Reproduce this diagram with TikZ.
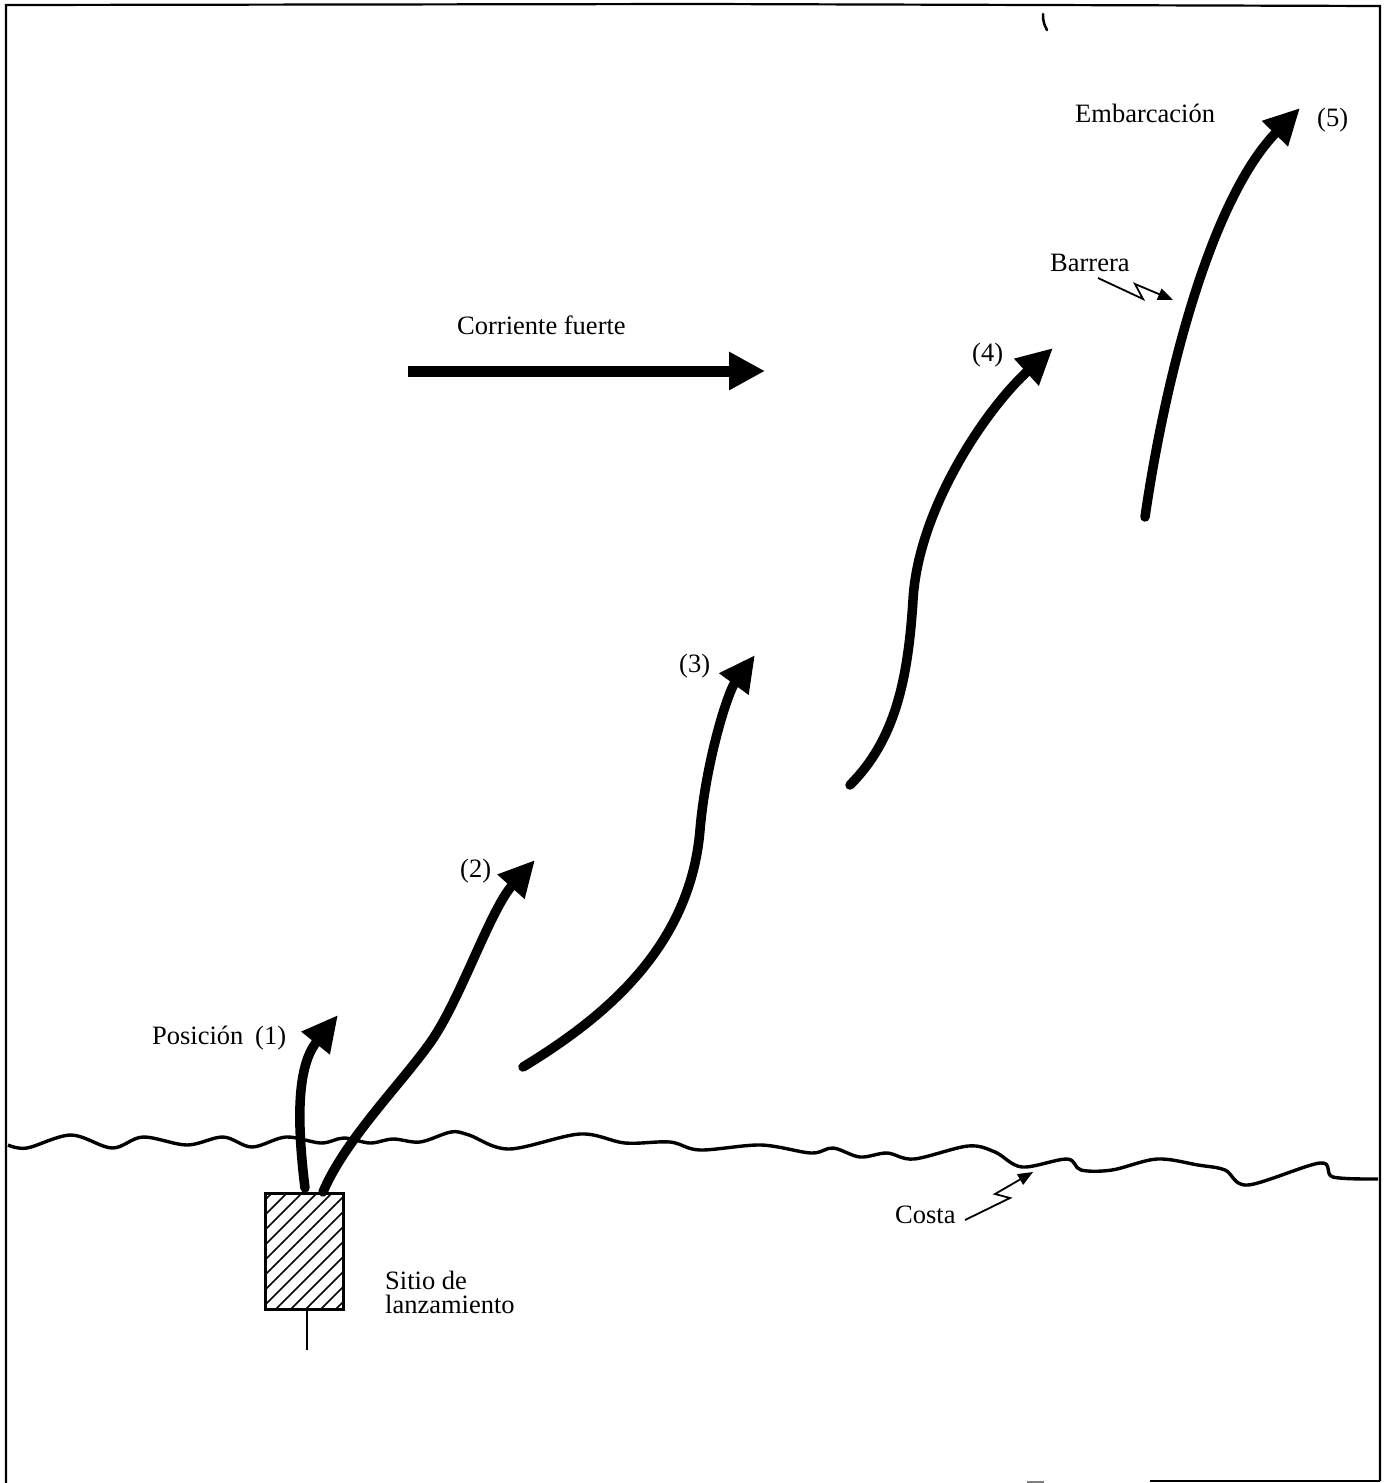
\documentclass[tikz,border=0pt]{standalone}
\usepackage{fontspec}
\setmainfont{Liberation Serif}
\usetikzlibrary{arrows.meta}
\begin{document}
\begin{tikzpicture}[x=1pt,y=-1pt,
  flow/.style={line width=9.5pt, line cap=round, line join=round, -{Triangle[length=36pt,width=34pt]}},
  lbl/.style={anchor=base west, inner sep=0pt, font=\fontsize{26.5}{30}\selectfont},
  pointer/.style={line width=1.8pt, -{Triangle[length=15pt,width=12pt]}},
  frame/.style={line width=2.2pt},
  coast/.style={line width=3.4pt, line join=round}]
\useasboundingbox (0,0) rectangle (1386,1483);

% outer frame
\draw[frame] (6,1483) -- (6,5) -- (700,4) -- (1380,6) -- (1380,1481);
\draw[frame] (1150,1481) -- (1380,1481);
\draw[line width=1.5pt, gray] (1027,1482) -- (1044,1482);
\draw[line width=2.5pt, line cap=round] (1043,14) to[bend right=15] (1047,30);

% coastline
\draw[coast] plot[smooth, tension=0.55] coordinates {
  (8,1145) (27,1148) (71,1135) (112,1148) (143,1137) (187,1145) (223,1137)
  (252,1147) (286,1137) (321,1143) (344,1138) (370,1143) (393,1139) (420,1142)
  (451,1132) (469,1135) (509,1149) (580,1134) (625,1143) (670,1142) (700,1150)
  (761,1145) (811,1153) (833,1148) (860,1157) (887,1153) (914,1159) (968,1146)
  (995,1152) (1022,1167) (1067,1159) (1081,1170) (1112,1170) (1157,1159)
  (1198,1165) (1225,1170) (1248,1185) (1320,1163) (1333,1177) (1378,1179)};

% launch site
\node[draw, line width=2pt, minimum width=77pt, minimum height=115pt, inner sep=0pt,
      anchor=north west] (site) at (265,1193) {};
\begin{scope}
  \clip (site.south west) rectangle (site.north east);
  \foreach \c in {130,145,...,400}
    \draw[line width=1.6pt] (\c,1320) -- (\c+150,1170);
\end{scope}
\draw[line width=2pt] (site.north west) rectangle (site.south east);
\coordinate (post) at (307,1350);
\draw[line width=1.5pt] (site.south -| post) -- (post);

% drift positions
\coordinate (p1s) at (305,1188);  \coordinate (p1e) at (338,1015);
\coordinate (p2s) at (323,1192);  \coordinate (p2m) at (430,1043); \coordinate (p2e) at (535,860);
\coordinate (p3s) at (523,1067);  \coordinate (p3m) at (700,830);  \coordinate (p3e) at (755,655);
\coordinate (p4s) at (850,785);   \coordinate (p4m) at (913,600);  \coordinate (p4e) at (1053,348);
\coordinate (p5s) at (1145,517);  \coordinate (p5e) at (1300,108);

\draw[flow] (p1s) .. controls (296,1115) and (298,1065) .. (p1e);
\draw[flow] (p2s) .. controls (345,1140) and (400,1085) .. (p2m)
                  .. controls (460,1001) and (490,910) .. (p2e);
\draw[flow] (p3s) .. controls (600,1020) and (690,950) .. (p3m)
                  .. controls (706,760) and (728,692) .. (p3e);
\draw[flow] (p4s) .. controls (895,740) and (908,680) .. (p4m)
                  .. controls (918,510) and (985,410) .. (p4e);
\draw[flow] (p5s) .. controls (1168,360) and (1215,195) .. (p5e);

% strong current
\coordinate (cs) at (408,371); \coordinate (ce) at (765,371);
\draw[line width=11pt, -{Triangle[length=36pt,width=36pt]}] (cs) -- (ce);

% labels
\node[lbl] (tcur) at (457,334) {Corriente fuerte};
\node[lbl] (temb) at (1075,122) {Embarcación};
\node[lbl] (t5) at (1317,126) {(5)};
\node[lbl] (tbar) at (1050,271) {Barrera};
\node[lbl] (t4) at (972,361) {(4)};
\node[lbl] (t3) at (679,672) {(3)};
\node[lbl] (t2) at (460,877) {(2)};
\node[lbl] (tpos) at (152,1044) {Posición};
\node[lbl] (t1) at (255,1044) {(1)};
\node[lbl] (tsit) at (385,1289) {Sitio de};
\node[lbl] (tlan) at (385,1313) {lanzamiento};
\node[lbl] (tcos) at (895,1223) {Costa};

% zigzag pointers
\coordinate (bz) at (1173,300);
\draw[pointer] (1098,278) -- (1143,299) -- (1135,284) -- (bz);
\coordinate (cz) at (1033,1172);
\draw[pointer] (965,1220) -- (1010,1198) -- (995,1194) -- (cz);
\end{tikzpicture}
\end{document}
